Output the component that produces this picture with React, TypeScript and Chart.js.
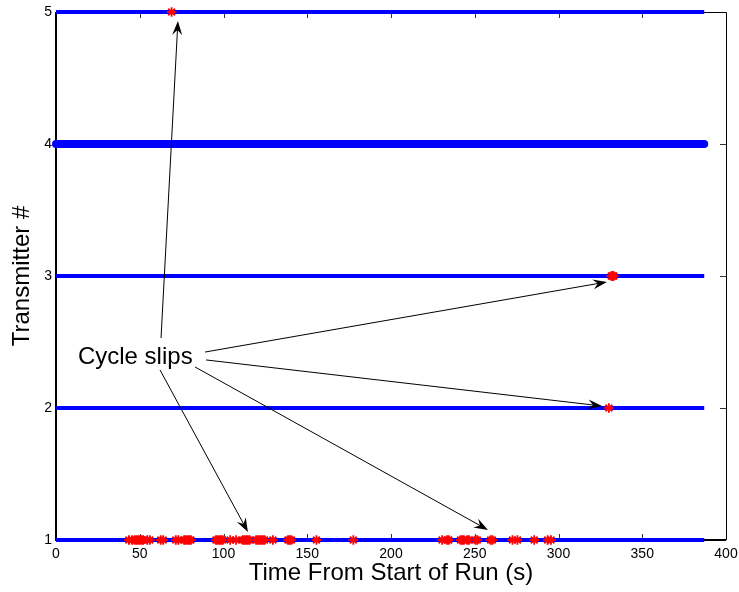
import React, { useEffect, useRef } from "react";
import { Chart, registerables } from "chart.js";

Chart.register(...registerables);

// ---- data ----
const transmitters = [1, 2, 3, 4, 5];
const runStart = 0;
const runEnd = 387;
const thickTransmitter = 4;

const slipsTx1 = [
  43.5, 45.5, 47, 48, 49, 50, 51, 52, 54.5, 56, 62.5, 64, 71.5, 73, 76.5, 77.5, 78.5, 79.5, 80.5,
  95.5, 96.5, 97.5, 98.5, 99.5, 104, 107.5, 111.5, 112.5, 113.5, 114.5, 115.5, 119.5, 120.5, 121.5,
  122.5, 123.5, 124.5, 129.5, 138.5, 139.5, 140.5, 155.5, 177.5, 230.5, 233.5, 234.5, 241.5, 242.5,
  243.5, 245.5, 246.5, 250.5, 251.5, 259.5, 260.5, 272.5, 275.5, 285.5, 293.5, 295.5,
];
const slipsTx2 = [330.1];
const slipsTx3 = [331.5, 332, 332.5, 333];
const slipsTx5 = [69];

const xTicks = [0, 50, 100, 150, 200, 250, 300, 350, 400];
const yTicks = [1, 2, 3, 4, 5];

const xTitle = "Time From Start of Run (s)";
const yTitle = "Transmitter #";

// annotation (data coordinates)
const noteText = "Cycle slips";
const noteX = [13.1];
const noteY = [2.386];
const arrowFromX = [62.7, 89.0, 89.6, 62.1, 83.0];
const arrowFromY = [2.53, 2.424, 2.364, 2.288, 2.311];
const arrowToX = [72.8, 328.9, 326.0, 114.6, 257.9];
const arrowToY = [4.932, 2.955, 2.015, 1.061, 1.076];

const FONT = "'Liberation Sans', Arial, Helvetica, sans-serif";

const framePlugin = {
  id: "frameTicks",
  beforeDatasetsDraw(chart: any) {
    const { ctx, chartArea: a, scales } = chart;
    const x = scales.x;
    const y = scales.y;
    ctx.save();
    ctx.strokeStyle = "#000";
    ctx.lineWidth = 1;
    ctx.beginPath();
    ctx.moveTo(a.left, a.top + 0.5);
    ctx.lineTo(a.right + 0.5, a.top + 0.5);
    ctx.lineTo(a.right + 0.5, a.bottom);
    ctx.stroke();
    ctx.lineWidth = 2;
    ctx.beginPath();
    ctx.moveTo(a.left, a.top);
    ctx.lineTo(a.left, a.bottom);
    ctx.lineTo(a.right, a.bottom);
    ctx.stroke();
    ctx.lineWidth = 1;
    ctx.strokeStyle = "#333";
    ctx.beginPath();
    xTicks.slice(1, -1).forEach((v) => {
      const px = Math.round(x.getPixelForValue(v)) + 0.5;
      ctx.moveTo(px, a.bottom);
      ctx.lineTo(px, a.bottom - 6);
      ctx.moveTo(px, a.top);
      ctx.lineTo(px, a.top + 6);
    });
    yTicks.slice(1, -1).forEach((v) => {
      const py = Math.round(y.getPixelForValue(v)) + 0.5;
      ctx.moveTo(a.left, py);
      ctx.lineTo(a.left + 6, py);
      ctx.moveTo(a.right, py);
      ctx.lineTo(a.right - 6, py);
    });
    ctx.stroke();
    ctx.restore();
  },
  afterDatasetsDraw(chart: any) {
    const { ctx, scales } = chart;
    const x = scales.x;
    const y = scales.y;
    ctx.save();
    ctx.fillStyle = "#000";
    ctx.font = `24px ${FONT}`;
    ctx.textAlign = "left";
    ctx.textBaseline = "middle";
    ctx.fillText(noteText, x.getPixelForValue(noteX[0]), y.getPixelForValue(noteY[0]));
    ctx.strokeStyle = "#000";
    ctx.lineWidth = 1;
    for (let i = 0; i < arrowFromX.length; i++) {
      const x0 = x.getPixelForValue(arrowFromX[i]);
      const y0 = y.getPixelForValue(arrowFromY[i]);
      const x1 = x.getPixelForValue(arrowToX[i]);
      const y1 = y.getPixelForValue(arrowToY[i]);
      const dx = x1 - x0;
      const dy = y1 - y0;
      const len = Math.hypot(dx, dy);
      const ux = dx / len;
      const uy = dy / len;
      const px = -uy;
      const py = ux;
      const L = 14;
      const W = 5;
      ctx.beginPath();
      ctx.moveTo(x0, y0);
      ctx.lineTo(x1 - ux * L * 0.6, y1 - uy * L * 0.6);
      ctx.stroke();
      ctx.beginPath();
      ctx.moveTo(x1, y1);
      ctx.lineTo(x1 - ux * L + px * W, y1 - uy * L + py * W);
      ctx.lineTo(x1 - ux * L * 0.65, y1 - uy * L * 0.65);
      ctx.lineTo(x1 - ux * L - px * W, y1 - uy * L - py * W);
      ctx.closePath();
      ctx.fill();
    }
    ctx.restore();
  },
};

export default function App() {
  const ref = useRef<HTMLCanvasElement | null>(null);

  useEffect(() => {
    if (!ref.current) return;

    const starSets = [
      { tx: 1, xs: slipsTx1 },
      { tx: 2, xs: slipsTx2 },
      { tx: 3, xs: slipsTx3 },
      { tx: 5, xs: slipsTx5 },
    ].map((s) => ({
      label: `slips ${s.tx}`,
      data: s.xs.map((v) => ({ x: v, y: s.tx })),
      showLine: false,
      pointStyle: "star",
      pointRadius: 4.8,
      pointBorderWidth: 1.8,
      pointBorderColor: "#ff0000",
      pointBackgroundColor: "#ff0000",
      order: 0,
      clip: false,
    }));

    const lineSets = transmitters.map((t) => ({
      label: `tx ${t}`,
      data: [
        { x: runStart, y: t },
        { x: runEnd, y: t },
      ],
      showLine: true,
      borderColor: "#0000ff",
      borderWidth: t === thickTransmitter ? 8 : 4,
      borderCapStyle: t === thickTransmitter ? "round" : "butt",
      pointRadius: 0,
      order: 1,
      clip: false,
    }));

    const chart = new Chart(ref.current, {
      type: "scatter",
      data: { datasets: [...starSets, ...lineSets] as any },
      options: {
        animation: false,
        responsive: true,
        maintainAspectRatio: false,
        layout: { padding: { top: 12, right: 13, left: 0, bottom: 0 } },
        plugins: {
          legend: { display: false },
          tooltip: { enabled: false },
        },
        scales: {
          x: {
            type: "linear",
            min: 0,
            max: 400,
            afterBuildTicks: (s: any) => {
              s.ticks = xTicks.map((v) => ({ value: v }));
            },
            afterFit: (s: any) => {
              s.height = 52;
              s.paddingLeft = 0;
              s.paddingRight = 0;
            },
            grid: { display: false, drawTicks: false },
            border: { display: false },
            ticks: {
              padding: 6,
              color: "#000",
              font: { family: FONT, size: 14 },
              maxRotation: 0,
              autoSkip: false,
            },
            title: {
              display: true,
              text: xTitle,
              color: "#000",
              font: { family: FONT, size: 24 },
              padding: { top: 0, bottom: 4 },
            },
          },
          y: {
            type: "linear",
            min: 1,
            max: 5,
            afterBuildTicks: (s: any) => {
              s.ticks = yTicks.map((v) => ({ value: v }));
            },
            afterFit: (s: any) => {
              s.width = 56;
              s.paddingTop = 0;
              s.paddingBottom = 0;
            },
            grid: { display: false, drawTicks: false },
            border: { display: false },
            ticks: {
              padding: 4,
              color: "#000",
              font: { family: FONT, size: 14 },
              autoSkip: false,
            },
            title: {
              display: true,
              text: yTitle,
              color: "#000",
              font: { family: FONT, size: 24 },
              padding: { top: 8, bottom: 0 },
            },
          },
        },
      },
      plugins: [framePlugin],
    } as any);

    return () => chart.destroy();
  }, []);

  return (
    <div style={{ position: "absolute", left: 0, top: 0, width: 739, height: 592, background: "#fff" }}>
      <canvas ref={ref} />
    </div>
  );
}
